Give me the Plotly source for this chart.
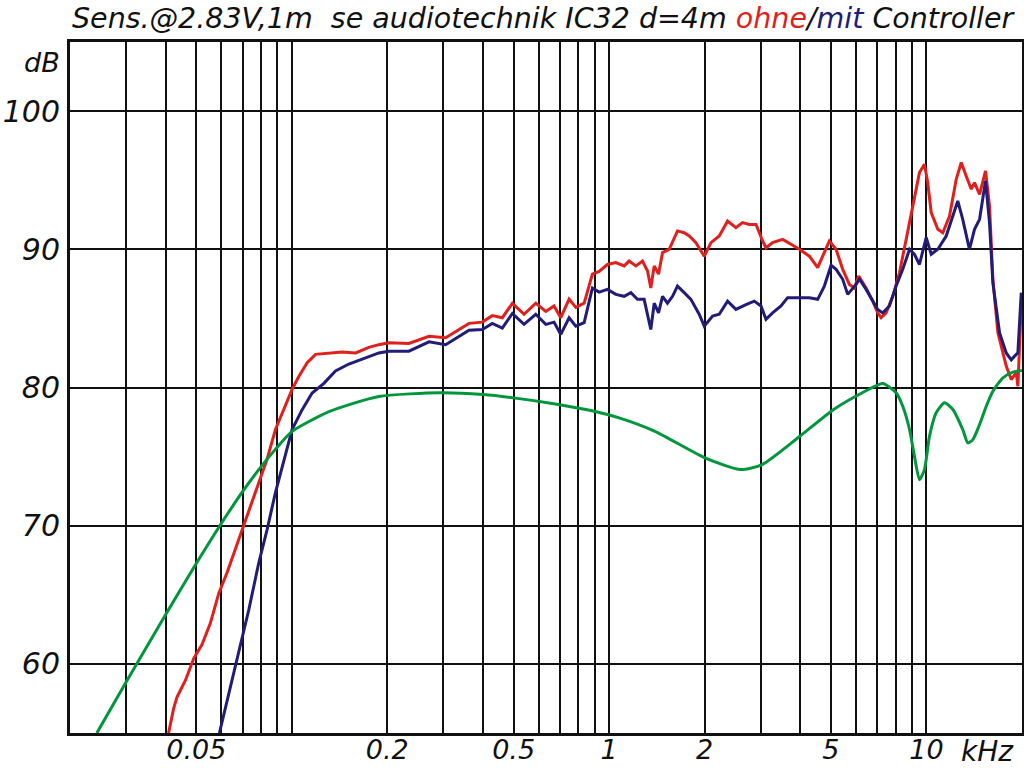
import math
import plotly.graph_objects as go

# ---------------- data (frequency in kHz, level in dB) ----------------
red_f = [0.0409, 0.04245, 0.04348, 0.0462, 0.04909, 0.05212, 0.05539, 0.05884, 0.06249, 0.06642,
         0.06969, 0.07406, 0.07866, 0.08355, 0.08881, 0.09436, 0.1002, 0.1052, 0.1118, 0.1188,
         0.1308, 0.1441, 0.1589, 0.1749, 0.1881, 0.2023, 0.2339, 0.2706, 0.3054, 0.3617,
         0.3985, 0.4283, 0.4607, 0.4955, 0.5393, 0.5871, 0.6314, 0.6706, 0.7040, 0.7479,
         0.7852, 0.8341, 0.8857, 0.9299, 0.9876, 1.050, 1.115, 1.156, 1.214, 1.274,
         1.321, 1.353, 1.387, 1.431, 1.473, 1.546, 1.642, 1.724, 1.788, 1.877,
         1.994, 2.094, 2.223, 2.362, 2.509, 2.633, 2.764, 2.903, 3.045, 3.121,
         3.274, 3.522, 3.743, 3.975, 4.275, 4.541, 4.709, 4.943, 5.190, 5.445,
         5.716, 5.928, 6.116, 6.453, 6.769, 7.020, 7.195, 7.461, 7.830, 8.219,
         8.630, 9.053, 9.504, 9.856, 10.09, 10.35, 10.86, 11.26, 11.82, 12.41,
         12.87, 13.34, 13.84, 14.17, 14.70, 15.35, 15.80, 16.19, 16.79, 17.84,
         18.50, 19.19, 19.41, 19.89]
red_db = [55.0, 56.8, 57.6, 58.8, 60.4, 61.4, 62.95, 65.1, 66.6, 68.3,
          69.7, 71.4, 73.1, 74.8, 76.96, 78.4, 79.86, 80.8, 81.8, 82.4,
          82.5, 82.56, 82.5, 82.9, 83.1, 83.24, 83.19, 83.7, 83.6, 84.64,
          84.73, 85.2, 85.05, 86.09, 85.3, 86.1, 85.5, 85.9, 85.05, 86.4,
          85.8, 86.1, 88.2, 88.4, 88.9, 89.04, 88.8, 89.15, 88.8, 89.15,
          88.43, 87.2, 88.8, 88.2, 89.76, 90.0, 91.33, 91.2, 90.96, 90.48,
          89.5, 90.48, 90.96, 92.05, 91.57, 91.93, 91.8, 91.8, 90.6, 90.1,
          90.48, 90.72, 90.36, 90.0, 89.5, 88.67, 89.5, 90.6, 90.0, 88.55,
          87.46, 87.2, 88.07, 87.2, 86.25, 85.4, 85.05, 85.4, 86.6, 88.3,
          90.72, 93.14, 95.55, 96.16, 94.83, 92.66, 91.45, 91.2, 92.4, 95.07,
          96.28, 95.3, 94.35, 94.83, 93.98, 95.67, 93.14, 87.83, 83.96, 81.55,
          80.58, 81.07, 80.09, 85.9]

blue_f = [0.05914, 0.06329, 0.06804, 0.07316, 0.07866, 0.08355, 0.08881, 0.09436, 0.1002, 0.1078,
          0.1159, 0.1262, 0.1373, 0.1513, 0.1708, 0.1881, 0.2023, 0.2339, 0.2706, 0.3054,
          0.3617, 0.3985, 0.4283, 0.4607, 0.4955, 0.5393, 0.5871, 0.6314, 0.6706, 0.7040,
          0.7479, 0.7852, 0.8341, 0.8857, 0.9299, 0.9876, 1.050, 1.115, 1.171, 1.228,
          1.289, 1.353, 1.387, 1.431, 1.473, 1.527, 1.584, 1.642, 1.724, 1.810,
          1.922, 1.994, 2.118, 2.223, 2.362, 2.509, 2.699, 2.867, 3.010, 3.121,
          3.274, 3.480, 3.651, 3.975, 4.275, 4.541, 4.767, 5.005, 5.190, 5.445,
          5.646, 6.001, 6.147, 6.453, 6.769, 7.020, 7.280, 7.643, 8.024, 8.419,
          8.843, 9.166, 9.504, 9.979, 10.35, 10.86, 11.54, 12.11, 12.55, 13.01,
          13.66, 14.17, 14.70, 15.35, 15.80, 16.19, 16.99, 17.84, 18.50, 18.95,
          19.41, 19.89]
blue_db = [55.0, 57.9, 61.0, 63.9, 67.3, 69.7, 72.4, 74.8, 76.96, 78.4,
           79.6, 80.3, 81.2, 81.7, 82.15, 82.5, 82.63, 82.63, 83.3, 83.1,
           84.15, 84.2, 84.64, 84.3, 85.36, 84.57, 85.3, 84.57, 84.73, 83.84,
           85.05, 84.44, 84.69, 87.2, 86.9, 87.1, 86.74, 86.6, 86.86, 86.38,
           86.38, 84.2, 86.1, 85.4, 86.6, 86.1, 86.6, 87.34, 86.86, 86.38,
           85.3, 84.44, 85.17, 85.3, 86.25, 85.65, 86.0, 86.25, 85.9, 84.93,
           85.4, 85.9, 86.5, 86.5, 86.5, 86.38, 87.34, 88.84, 88.55, 87.83,
           86.74, 87.46, 87.83, 87.1, 86.25, 85.65, 85.4, 85.9, 87.34, 88.55,
           90.0, 89.64, 88.9, 90.85, 89.64, 90.0, 90.96, 92.4, 93.5, 92.17,
           90.0, 91.45, 92.17, 94.95, 91.93, 87.59, 83.96, 82.5, 82.0, 82.27,
           82.5, 86.86]

green_f = [0.0243, 0.0299, 0.0400, 0.0497, 0.0596, 0.0696, 0.0796, 0.0897, 0.100, 0.131,
           0.188, 0.294, 0.401, 0.500, 0.692, 0.897, 1.075, 1.394, 2.004, 2.597,
           3.035, 3.936, 5.101, 6.279, 7.280, 8.024, 8.419, 8.843, 9.166, 9.504,
           9.856, 10.22, 10.73, 11.40, 12.11, 13.01, 13.50, 14.00, 14.70, 15.43,
           16.19, 17.41, 18.72, 20.0]
green_db = [55.0, 58.6, 63.55, 67.17, 70.07, 72.39, 74.2, 75.65, 76.81, 78.26,
            79.35, 79.62, 79.49, 79.25, 78.77, 78.28, 77.80, 76.83, 74.91, 74.06,
            74.42, 76.36, 78.41, 79.62, 80.29, 79.62, 78.64, 76.96, 75.02, 73.33,
            74.06, 76.47, 78.17, 78.89, 78.41, 76.96, 75.99, 76.23, 77.32, 78.64,
            79.73, 80.70, 81.11, 81.23]

x_grid = [0.03, 0.04, 0.05, 0.06, 0.07, 0.08, 0.09, 0.1, 0.2, 0.3, 0.4, 0.5, 0.6, 0.7,
          0.8, 0.9, 1, 2, 3, 4, 5, 6, 7, 8, 9, 10]
x_labels = {0.05: "0.05", 0.2: "0.2", 0.5: "0.5", 1: "1", 2: "2", 5: "5", 10: "10"}
y_ticks = [60, 70, 80, 90, 100]

title_plain = "Sens.@2.83V,1m  se audiotechnik IC32 d=4m "
title_red = "ohne"
title_blue = "mit"
title_end = " Controller"

RED = "#e0201c"
BLUE = "#201c78"
GREEN = "#00963c"
FONT = "DejaVu Sans"

# ---------------- figure ----------------
fig = go.Figure()
fig.add_trace(go.Scatter(x=red_f, y=red_db, mode="lines",
                         line=dict(color=RED, width=3), showlegend=False))
fig.add_trace(go.Scatter(x=blue_f, y=blue_db, mode="lines",
                         line=dict(color=BLUE, width=3), showlegend=False))
fig.add_trace(go.Scatter(x=green_f, y=green_db, mode="lines",
                         line=dict(color=GREEN, width=3, shape="spline", smoothing=0.6),
                         showlegend=False))

y_font = dict(family=FONT, size=30, color="#111111", style="italic")
x_font = dict(family=FONT, size=27, color="#111111", style="italic")

fig.update_xaxes(type="log", range=[math.log10(0.02), math.log10(20)],
                 tickmode="array", tickvals=x_grid,
                 ticktext=[x_labels.get(v, "") for v in x_grid],
                 tickfont=x_font, ticks="", ticklabelstandoff=-9, automargin=False,
                 showgrid=True, gridcolor="#111111", gridwidth=2,
                 showline=True, linecolor="#111111", linewidth=3, mirror=True,
                 zeroline=False)
fig.update_yaxes(range=[55, 105], tickmode="array", tickvals=y_ticks,
                 ticktext=[str(v) for v in y_ticks],
                 tickfont=y_font, ticks="", ticklabelstandoff=1, automargin=False,
                 showgrid=True, gridcolor="#111111", gridwidth=2,
                 showline=True, linecolor="#111111", linewidth=3, mirror=True,
                 zeroline=False)

title_html = ("<i>" + title_plain.replace("  ", "&nbsp;&nbsp;")
              + "<span style='color:%s'>%s</span>/<span style='color:%s'>%s</span>%s</i>"
              % (RED, title_red, BLUE, title_blue, title_end))

fig.add_annotation(text=title_html, xref="paper", yref="paper", x=0.0, y=1.0347,
                   xanchor="left", yanchor="middle", showarrow=False,
                   font=dict(family=FONT, size=28.5, color="#111111"))
fig.add_annotation(text="<i>dB</i>", xref="paper", yref="paper", x=-0.008, y=0.971,
                   xanchor="right", yanchor="middle", showarrow=False,
                   font=dict(family=FONT, size=27, color="#111111"))
fig.add_annotation(text="<i>kHz</i>", xref="paper", yref="paper", x=0.964, y=-0.027,
                   xanchor="center", yanchor="middle", showarrow=False,
                   font=dict(family=FONT, size=28, color="#111111"))

fig.update_layout(width=1024, height=768,
                  margin=dict(l=70, r=2, t=42, b=35, autoexpand=False),
                  paper_bgcolor="white", plot_bgcolor="white",
                  font=dict(family=FONT, color="#111111"))

fig.write_html("out.html", config={"displayModeBar": False},
               post_script="document.body.style.margin='0';"
                           "document.body.style.overflow='hidden';")
